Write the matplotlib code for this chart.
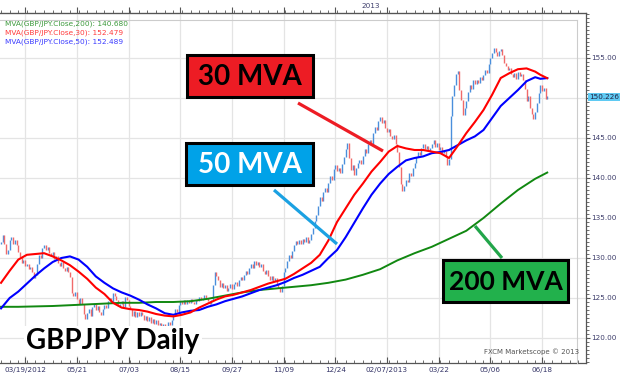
import numpy as np
import matplotlib.pyplot as plt
from matplotlib.patches import Rectangle
from matplotlib.lines import Line2D
from matplotlib.ticker import MultipleLocator

# daily closes, GBP/JPY (one per bar)
closes = [
    132.0, 132.9, 131.8, 130.5, 131.0, 132.3, 132.6, 131.7, 132.2, 131.6,
    130.8, 130.1, 129.4, 129.8, 129.0, 129.3, 128.6, 128.9, 128.2, 127.5,
    127.9, 129.2, 130.4, 130.0, 131.2, 131.6, 131.0, 131.4, 130.6, 130.3,
    130.7, 129.9, 130.2, 129.4, 129.0, 129.5, 128.7, 128.4, 128.9, 128.2,
    127.6, 125.6, 125.2, 125.8, 124.9, 124.3, 125.0, 124.2, 123.0, 122.4,
    123.1, 123.6, 122.8, 123.9, 124.2, 123.5, 124.0, 123.3, 122.9, 123.6,
    124.1, 123.8, 124.6, 125.0, 124.4, 125.6, 125.2, 124.7, 124.0, 124.3,
    124.6, 123.9, 125.1, 124.8, 124.0, 123.6, 122.8, 123.4, 122.6, 123.2,
    122.7, 123.3, 122.9, 122.3, 122.8, 122.1, 122.6, 121.9, 122.4, 121.8,
    122.2, 121.6, 121.9, 121.3, 121.7, 121.1, 121.5, 122.0, 121.6, 122.3,
    122.9, 123.6, 123.2, 124.1, 124.6, 124.2, 124.8, 124.3, 124.7, 124.4,
    124.9, 124.5, 124.2, 124.8, 124.6, 125.1, 124.7, 124.9, 125.4, 125.0,
    124.6, 124.3, 124.8, 126.6, 128.3, 127.8, 127.2, 126.4, 126.9, 126.2,
    126.6, 125.9, 126.3, 126.8, 126.1, 126.7, 127.0, 126.5, 127.3, 127.6,
    127.2, 127.9, 128.4, 128.0, 128.7, 129.2, 128.8, 129.6, 129.1, 129.5,
    128.9, 129.3, 128.4, 128.0, 128.5, 127.7, 127.3, 127.8, 127.1, 127.5,
    126.8, 126.2, 125.8, 126.5, 128.2, 128.8, 129.6, 130.4, 130.0, 130.9,
    131.6, 132.1, 131.7, 132.3, 131.8, 132.4, 132.0, 132.6, 131.9, 132.3,
    133.0, 133.8, 134.6, 135.4, 136.5, 137.6, 137.1, 138.2, 138.7, 138.3,
    139.4, 140.2, 139.8, 141.1, 141.6, 140.9, 141.3, 140.6, 141.8, 142.6,
    143.6, 144.4, 142.5, 141.0, 141.6, 140.4, 141.2, 141.9, 142.3, 141.7,
    142.8, 143.6, 143.1, 144.2, 144.8, 144.3, 145.6, 146.4, 146.0, 147.1,
    147.6, 146.9, 147.3, 146.2, 145.7, 146.1, 145.3, 144.9, 145.4, 144.3,
    143.2, 141.4, 139.2, 138.4, 139.0, 139.8, 139.5, 140.6, 140.2, 141.3,
    141.9, 142.6, 143.3, 142.9, 143.8, 144.2, 143.6, 144.0, 143.4, 143.7,
    144.3, 144.7, 143.9, 144.4, 143.5, 143.9, 143.1, 143.4, 142.6, 141.6,
    142.4, 147.8, 150.2, 151.6, 153.0, 153.4, 151.0, 149.8, 147.9, 148.7,
    149.6, 150.8, 151.6, 151.1, 152.2, 151.7, 152.3, 151.9, 152.6, 152.2,
    152.9, 153.5, 153.1, 154.2, 155.0, 155.6, 156.3, 155.7, 155.3, 155.9,
    156.1, 155.4, 154.4, 154.0, 153.5, 153.8, 153.0, 152.6, 153.1, 152.4,
    153.2, 152.7, 153.0, 152.3, 151.1, 149.6, 150.2, 148.7, 148.0, 147.4,
    148.3, 149.4, 150.6, 151.6, 150.9, 151.3, 149.9, 150.226,
]
first_open = 131.8

# moving averages, read every 5 bars
ma_bars = list(range(0, 315, 5)) + [313, 317]
ma_bars = sorted(set(ma_bars))
ma30 = [126.9, 128.4, 129.8, 130.4, 130.5, 130.6, 130.2, 129.7, 129.1, 128.3,
        127.4, 126.3, 125.5, 124.4, 123.8, 123.6, 123.5, 123.3, 123.0, 122.8,
        122.7, 122.9, 123.2, 123.8, 124.3, 124.8, 125.2, 125.4, 125.7, 126.0,
        126.4, 126.8, 127.1, 127.4, 128.0, 128.7, 129.4, 130.4, 132.2, 134.5,
        136.2, 137.9, 139.3, 140.8, 142.0, 143.3, 144.0, 143.7, 143.5, 143.5,
        143.3, 143.1, 142.5, 144.0, 145.6, 147.0, 148.5, 150.4, 152.5, 153.1,
        153.6, 153.7, 153.3, 152.9, 152.479]
ma50 = [123.7, 125.0, 125.8, 126.8, 127.8, 128.7, 129.5, 130.0, 130.2, 129.8,
        128.9, 127.7, 126.9, 126.2, 125.7, 125.3, 124.8, 124.2, 123.7, 123.1,
        122.9, 123.2, 123.4, 123.5, 123.9, 124.2, 124.6, 124.9, 125.2, 125.6,
        126.0, 126.3, 126.6, 127.0, 127.5, 127.9, 128.4, 128.9, 130.0, 131.0,
        132.6, 134.4, 136.2, 137.9, 139.3, 140.5, 141.4, 142.2, 142.5, 142.7,
        143.1, 143.25, 143.5, 144.1, 144.7, 145.2, 146.0, 147.5, 149.0, 150.0,
        151.0, 152.1, 152.6, 152.4, 152.489]
ma200_bars = [0, 10, 20, 30, 40, 50, 60, 70, 80, 90, 100, 110, 120, 130, 140,
              150, 160, 170, 180, 190, 200, 210, 220, 230, 240, 250, 260, 270,
              280, 290, 300, 310, 317]
ma200 = [123.9, 123.9, 123.95, 124.0, 124.1, 124.2, 124.3, 124.4, 124.4, 124.5,
         124.5, 124.6, 124.9, 125.3, 125.7, 126.0, 126.2, 126.4, 126.6, 126.9,
         127.3, 127.9, 128.6, 129.7, 130.6, 131.4, 132.4, 133.4, 135.0, 136.8,
         138.5, 139.9, 140.68]

date_labels = ['03/19/2012', '05/21', '07/03', '08/15', '09/27', '11/09',
               '12/24', '02/07/2013', '03/22', '05/06', '06/18']
price_ticks = [120, 125, 130, 135, 140, 145, 150, 155]
price_tick_labels = ['120.00', '125.00', '130.00', '135.00', '140.00', '145.00',
                     '', '155.00']
legend_text = ['MVA(GBP/JPY.Close,200): 140.680',
               'MVA(GBP/JPY.Close,30): 152.479',
               'MVA(GBP/JPY.Close,50): 152.489']
legend_colors = ['#3c9a3c', '#ff3b3b', '#3b3bff']

W, H = 624, 381
def fx(x):
    return x / W
def fy(y):
    return 1 - y / H

fig = plt.figure(figsize=(W / 100, H / 100), dpi=100)
ax = fig.add_axes([0, (H - 363) / H, 586 / W, 350 / H])

closes = np.array(closes)
opens = np.concatenate([[first_open], closes[:-1]])
x = np.arange(len(closes))
up = closes >= opens
ax.vlines(x[up], opens[up], closes[up], color='#4a8fdc', lw=1.0, zorder=2)
ax.vlines(x[~up], opens[~up], closes[~up], color='#f06a6a', lw=1.0, zorder=2)

ax.plot(ma200_bars, ma200, color='#118811', lw=1.4, zorder=3)
ax.plot(ma_bars, ma50, color='#0000ff', lw=1.5, zorder=4)
ax.plot(ma_bars, ma30, color='#ff0000', lw=1.5, zorder=5)

ax.set_xlim(-0.6, 339.5)
ax.set_ylim(116.875, 160.625)

tick_pos = [14 + 30 * k for k in range(len(date_labels))]
ax.set_xticks(tick_pos)
ax.set_xticklabels(date_labels)
ax.xaxis.set_minor_locator(MultipleLocator(5))
ax.yaxis.tick_right()
ax.set_yticks(price_ticks)
ax.set_yticklabels(price_tick_labels)
ax.yaxis.set_minor_locator(MultipleLocator(0.5))
ax.grid(True, which='major', color='#e4e4e4', lw=0.9, zorder=0)

ax.tick_params(axis='x', which='both', direction='in', colors='#555555',
               labelcolor='#333366', labelsize=5.2, pad=3)
ax.tick_params(axis='x', which='major', length=4)
ax.tick_params(axis='x', which='minor', length=2)
ax.tick_params(axis='y', which='both', direction='out', colors='#555555',
               labelcolor='#3d3d6b', labelsize=5.2, pad=1)
ax.tick_params(axis='y', which='major', length=3)
ax.tick_params(axis='y', which='minor', length=1.8)
for side in ['top', 'right', 'bottom']:
    ax.spines[side].set_color('#555555')
    ax.spines[side].set_linewidth(0.9)
ax.spines['left'].set_visible(False)

sec = ax.secondary_xaxis('top')
sec.set_xticks(tick_pos)
sec.set_xticklabels([])
sec.xaxis.set_minor_locator(MultipleLocator(5))
sec.tick_params(which='both', direction='out', colors='#555555')
sec.tick_params(which='major', length=4)
sec.tick_params(which='minor', length=2)
sec.spines['top'].set_color('#555555')
fig.text(fx(371), fy(6), '2013', fontsize=5.2, color='#3d3d6b', ha='center', va='center')

# inner frame
fig.add_artist(Line2D([0, fx(577)], [fy(20), fy(20)], color='#cccccc', lw=0.8))
fig.add_artist(Line2D([fx(577), fx(577)], [fy(20), fy(363)], color='#cccccc', lw=0.8))

for k, (t, c) in enumerate(zip(legend_text, legend_colors)):
    fig.text(fx(5), fy(24 + 9 * k), t, color=c, fontsize=5.3, va='center')

fig.text(fx(589), fy(97), '150.226', fontsize=5.2, color='#222244', va='center',
         bbox=dict(facecolor='#5fcaf3', edgecolor='none', pad=0.9))

fig.text(fx(579), fy(352), 'FXCM Marketscope \u00a9 2013', fontsize=5, color='#555555',
         ha='right', va='center')

# callout boxes
big = dict(fontweight='bold', family=['Lato', 'DejaVu Sans'],
           ha='center', va='center')
boxes = [((187, 55, 313, 97), '#ed1c24', '30 MVA', 'black', 20),
         ((186, 143, 313, 185), '#00a2e8', '50 MVA', 'white', 20),
         ((443, 260, 568, 302), '#22b14c', '200 MVA', 'black', 19)]
for (x0, y0, x1, y1), fc, label, tc, fs in boxes:
    fig.add_artist(Rectangle((fx(x0), fy(y1)), (x1 - x0) / W, (y1 - y0) / H,
                             transform=fig.transFigure, facecolor=fc,
                             edgecolor='black', lw=2.2, zorder=10))
    fig.text(fx((x0 + x1) / 2), fy((y0 + y1) / 2 + 1), label, color=tc,
             fontsize=fs, zorder=11, **big)

pointers = [((298, 103), (383, 151), '#ed1c24'),
            ((274, 190), (337, 244), '#1ba1e2'),
            ((475, 226), (502, 258), '#22a54a')]
for (x0, y0), (x1, y1), c in pointers:
    fig.add_artist(Line2D([fx(x0), fx(x1)], [fy(y0), fy(y1)], color=c, lw=2.3,
                          solid_capstyle='butt', zorder=9))

fig.text(fx(113), fy(341), 'GBPJPY Daily', color='black', fontsize=20, zorder=11,
         bbox=dict(facecolor='white', edgecolor='none', pad=1.5), **big)

fig.savefig('out.png', dpi=100)
